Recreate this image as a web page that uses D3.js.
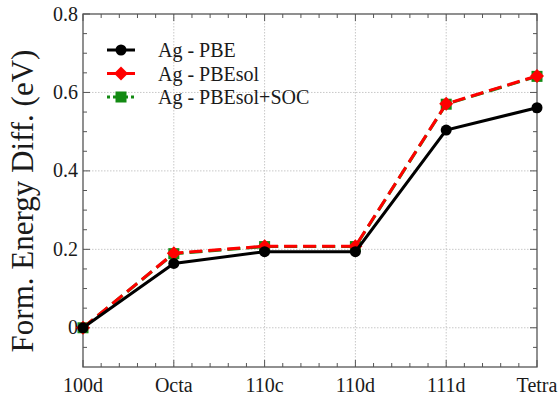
<!DOCTYPE html>
<html>
<head>
<meta charset="utf-8">
<script src="https://cdn.jsdelivr.net/npm/d3@7"></script>
<style>
  html, body { margin: 0; padding: 0; background: #fff; }
  svg { display: block; }
  text { font-family: "Liberation Serif", "Times New Roman", serif; fill: #1a1a1a; }
</style>
</head>
<body>
<svg id="chart" width="559" height="398"></svg>
<script>
// Interstitial sites along the x axis
const sites = ["100d", "Octa", "110c", "110d", "111d", "Tetra"];

// Formation energy differences (eV) for each functional
const pbe       = [0, 0.164, 0.194, 0.194, 0.504, 0.561];
const pbesol    = [0, 0.190, 0.208, 0.208, 0.571, 0.642];
const pbesolSoc = [0, 0.189, 0.207, 0.207, 0.570, 0.641];

const yTicks = [0, 0.2, 0.4, 0.6, 0.8];
const yTickLabels = ["0", "0.2", "0.4", "0.6", "0.8"];

const series = [
  { name: "Ag - PBEsol+SOC", values: pbesolSoc, color: "#138a13", dash: "13,6", legendDash: "3,3", marker: "square" },
  { name: "Ag - PBEsol",     values: pbesol,    color: "#ff0000", dash: "13,6", legendDash: null,  marker: "diamond" },
  { name: "Ag - PBE",        values: pbe,       color: "#000000", dash: null,   legendDash: null,  marker: "circle" }
];

const svg = d3.select("#chart");
const margin = { left: 83, right: 22, top: 14, bottom: 31 };
const W = 559, H = 398;
const x0 = margin.left, x1 = W - margin.right;
const y0 = H - margin.bottom, y1 = margin.top;

const x = d3.scalePoint().domain(sites).range([x0, x1]).padding(0);
const y = d3.scaleLinear().domain([-0.1, 0.8]).range([y0, y1]);

// Minor tick positions
const xMinor = [];
for (let i = 0; i < sites.length - 1; i++) {
  const a = x(sites[i]), b = x(sites[i + 1]);
  for (let k = 1; k < 5; k++) xMinor.push(a + (b - a) * k / 5);
}
const yMinor = d3.range(-0.05, 0.8, 0.05).filter(v => Math.abs(Math.round(v / 0.2) * 0.2 - v) > 1e-6);

// Dotted grid at the major ticks
const grid = svg.append("g").attr("stroke", "#c8c8c8").attr("stroke-width", 1).attr("stroke-dasharray", "1.5,1.5");
grid.selectAll("line.gx").data(sites.slice(1, -1)).join("line")
  .attr("x1", d => x(d)).attr("x2", d => x(d)).attr("y1", y1).attr("y2", y0);
grid.selectAll("line.gy").data(yTicks.filter(v => v < 0.8)).join("line")
  .attr("x1", x0).attr("x2", x1).attr("y1", d => y(d)).attr("y2", d => y(d));

// Frame with inward ticks on all four sides
const axisColor = "#555";
const frame = svg.append("g").attr("stroke", axisColor).attr("stroke-width", 1.3).attr("fill", "none");
frame.append("rect").attr("x", x0).attr("y", y1).attr("width", x1 - x0).attr("height", y0 - y1);

const tickG = svg.append("g").attr("stroke", axisColor).attr("stroke-width", 1);
const majLen = 7, minLen = 4;
sites.forEach(s => {
  const px = x(s);
  tickG.append("line").attr("x1", px).attr("x2", px).attr("y1", y0).attr("y2", y0 - majLen);
  tickG.append("line").attr("x1", px).attr("x2", px).attr("y1", y1).attr("y2", y1 + majLen);
});
xMinor.forEach(px => {
  tickG.append("line").attr("x1", px).attr("x2", px).attr("y1", y0).attr("y2", y0 - minLen);
  tickG.append("line").attr("x1", px).attr("x2", px).attr("y1", y1).attr("y2", y1 + minLen);
});
yTicks.forEach(v => {
  const py = y(v);
  tickG.append("line").attr("x1", x0).attr("x2", x0 + majLen).attr("y1", py).attr("y2", py);
  tickG.append("line").attr("x1", x1).attr("x2", x1 - majLen).attr("y1", py).attr("y2", py);
});
yMinor.forEach(v => {
  const py = y(v);
  tickG.append("line").attr("x1", x0).attr("x2", x0 + minLen).attr("y1", py).attr("y2", py);
  tickG.append("line").attr("x1", x1).attr("x2", x1 - minLen).attr("y1", py).attr("y2", py);
});

// Tick labels
svg.append("g").selectAll("text").data(sites).join("text")
  .attr("x", d => x(d)).attr("y", 392).attr("text-anchor", "middle")
  .attr("font-size", 20).text(d => d);
svg.append("g").selectAll("text").data(yTicks).join("text")
  .attr("x", 78).attr("y", d => y(d) + 6.5).attr("text-anchor", "end")
  .attr("font-size", 20).text((d, i) => yTickLabels[i]);

// Axis title
svg.append("text")
  .attr("transform", `translate(33, 201) rotate(-90)`)
  .attr("text-anchor", "middle").attr("font-size", 31)
  .text("Form. Energy Diff. (eV)");

// Marker drawing helper
function drawMarker(g, type, cx, cy, color) {
  if (type === "circle") {
    g.append("circle").attr("cx", cx).attr("cy", cy).attr("r", 5.5).attr("fill", color);
  } else if (type === "diamond") {
    const r = 7;
    g.append("path").attr("d", `M${cx},${cy - r}L${cx + r},${cy}L${cx},${cy + r}L${cx - r},${cy}Z`).attr("fill", color);
  } else {
    const s = 5.5;
    g.append("rect").attr("x", cx - s).attr("y", cy - s).attr("width", 2 * s).attr("height", 2 * s).attr("fill", color);
  }
}

// Lines and markers
const line = d3.line().x((d, i) => x(sites[i])).y(d => y(d));
series.forEach(s => {
  const g = svg.append("g");
  g.append("path").datum(s.values).attr("d", line)
    .attr("fill", "none").attr("stroke", s.color).attr("stroke-width", 3)
    .attr("stroke-dasharray", s.dash);
  s.values.forEach((v, i) => drawMarker(g, s.marker, x(sites[i]), y(v), s.color));
});

// Legend
const legendRows = [series[2], series[1], series[0]];
const lg = svg.append("g");
legendRows.forEach((s, i) => {
  const ly = 50 + i * 23.5;
  lg.append("line").attr("x1", 107).attr("x2", 135).attr("y1", ly).attr("y2", ly)
    .attr("stroke", s.color).attr("stroke-width", 3)
    .attr("stroke-dasharray", s.legendDash);
  drawMarker(lg, s.marker, 121, ly, s.color);
  lg.append("text").attr("x", 158).attr("y", ly + 7).attr("font-size", 20).text(s.name);
});
</script>
</body>
</html>
